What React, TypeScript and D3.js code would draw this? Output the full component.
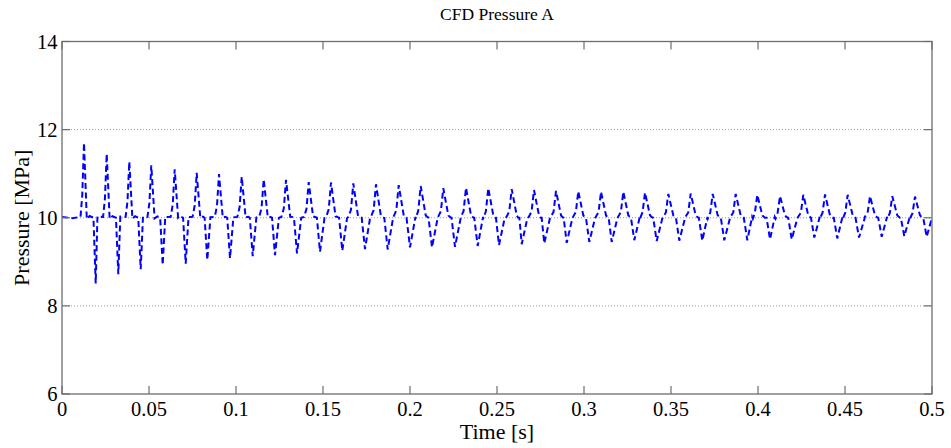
import React from "react";
import * as d3 from "d3";

// ---- data ----
const peakT = [0.01264, 0.02569, 0.03868, 0.05132, 0.06477, 0.07741, 0.09023, 0.10328, 0.11592, 0.12874, 0.14178, 0.1546, 0.16741, 0.18046, 0.19351, 0.20615, 0.21914, 0.23218, 0.245, 0.25845, 0.27126, 0.28391, 0.29672, 0.30977, 0.32259, 0.33506, 0.34845, 0.36132, 0.37397, 0.38718, 0.3996, 0.41264, 0.42603, 0.43851, 0.45155, 0.46437, 0.47718, 0.49023];
const peakP = [11.7, 11.45, 11.27, 11.19, 11.1, 11.02, 10.99, 10.93, 10.87, 10.86, 10.81, 10.8, 10.78, 10.76, 10.74, 10.72, 10.67, 10.68, 10.67, 10.65, 10.63, 10.61, 10.6, 10.59, 10.59, 10.57, 10.54, 10.55, 10.54, 10.54, 10.52, 10.49, 10.52, 10.53, 10.52, 10.49, 10.49, 10.48];
const troughT = [0.01937, 0.03236, 0.04523, 0.05787, 0.07109, 0.08351, 0.09655, 0.1096, 0.12241, 0.13506, 0.14828, 0.16109, 0.17414, 0.18718, 0.2, 0.21264, 0.22586, 0.23891, 0.25115, 0.2642, 0.27718, 0.29006, 0.30305, 0.31592, 0.32891, 0.34178, 0.35477, 0.36799, 0.38063, 0.39385, 0.4069, 0.41937, 0.43236, 0.44557, 0.45805, 0.47109, 0.48408, 0.49695];
const troughP = [8.51, 8.72, 8.83, 8.93, 8.96, 9.04, 9.08, 9.13, 9.15, 9.19, 9.23, 9.25, 9.29, 9.28, 9.33, 9.33, 9.34, 9.36, 9.38, 9.4, 9.42, 9.43, 9.45, 9.45, 9.49, 9.47, 9.48, 9.48, 9.49, 9.49, 9.51, 9.51, 9.55, 9.53, 9.55, 9.57, 9.58, 9.57];
const baseP = 10.0;
const startPts: [number, number][] = [[0, 10.02], [0.006, 9.99]];
const endPts: [number, number][] = [[0.5, 10.0]];

const xTicks = [0, 0.05, 0.1, 0.15, 0.2, 0.25, 0.3, 0.35, 0.4, 0.45, 0.5];
const yTicks = [6, 8, 10, 12, 14];
const gridY = [8, 10, 12];

const W = 951, H = 448;
const L = 62, R = 932, T = 41.5, B = 394;
const FONT = "'Liberation Serif', 'Times New Roman', serif";

function buildPoints(): [number, number][] {
  const lerp = (a: number, b: number, k: number) => a + (b - a) * k;
  const pts: [number, number][] = [...startPts];
  peakT.forEach((tp, i) => {
    const k = Math.min(1, i / 14);
    const P = peakP[i];
    pts.push([tp - lerp(0.0020, 0.0030, k), baseP + 0.02]);
    pts.push([tp - lerp(0.0010, 0.0014, k), baseP + (P - baseP) * lerp(0.3, 0.22, k)]);
    pts.push([tp, P]);
    pts.push([tp + lerp(0.0016, 0.0029, k), lerp(9.97, 10.05, k)]);
    pts.push([tp + lerp(0.0032, 0.0044, k), lerp(10.04, 10.0, k)]);
    const tt = troughT[i];
    pts.push([tt - lerp(0.0013, 0.0020, k), baseP]);
    pts.push([tt, troughP[i]]);
    pts.push([tt + lerp(0.0010, 0.0032, k), lerp(10.03, 9.98, k)]);
  });
  pts.push(...endPts);
  return pts.filter((p) => p[0] <= 0.5).sort((a, b) => a[0] - b[0]);
}

export default function App() {
  const x = d3.scaleLinear().domain([0, 0.5]).range([L, R]);
  const y = d3.scaleLinear().domain([6, 14]).range([B, T]);
  const pts = buildPoints();
  const line = d3.line<[number, number]>().x((d) => x(d[0])).y((d) => y(d[1])).curve(d3.curveLinear);
  const axisColor = "#6e6e6e";
  const tickLen = 8;
  return (
    <svg width={W} height={H} style={{ position: "absolute", left: 0, top: 0, background: "#fff" }} fontFamily={FONT}>
      <rect x={0} y={0} width={W} height={H} fill="#fff" />
      <defs>
        <clipPath id="plot">
          <rect x={L} y={T} width={R - L} height={B - T} />
        </clipPath>
      </defs>
      {gridY.map((v) => (
        <line key={v} x1={L} x2={R} y1={y(v)} y2={y(v)} stroke="#9a9a9a" strokeWidth={1} strokeDasharray="1,2" />
      ))}
      <path d={line(pts) || ""} fill="none" stroke="#0000ff" strokeWidth={2} strokeDasharray="6,3.5" clipPath="url(#plot)" />
      {/* frame */}
      <rect x={L} y={T} width={R - L} height={B - T} fill="none" stroke={axisColor} strokeWidth={1.3} />
      {xTicks.map((v) => (
        <g key={v}>
          <line x1={x(v)} x2={x(v)} y1={B} y2={B - tickLen} stroke={axisColor} strokeWidth={1.2} />
          <line x1={x(v)} x2={x(v)} y1={T} y2={T + tickLen} stroke={axisColor} strokeWidth={1.2} />
          <text x={x(v)} y={416} textAnchor="middle" fontSize={20.5} fill="#000">{String(v)}</text>
        </g>
      ))}
      {yTicks.map((v) => (
        <g key={v}>
          <line x1={L} x2={L + tickLen} y1={y(v)} y2={y(v)} stroke={axisColor} strokeWidth={1.2} />
          <line x1={R} x2={R - tickLen} y1={y(v)} y2={y(v)} stroke={axisColor} strokeWidth={1.2} />
          <text x={57.5} y={y(v) + 7} textAnchor="end" fontSize={20.5} fill="#000">{String(v)}</text>
        </g>
      ))}
      <text x={(L + R) / 2} y={20} textAnchor="middle" fontSize={17.5} fill="#000">CFD Pressure A</text>
      <text x={(L + R) / 2} y={439} textAnchor="middle" fontSize={22} fill="#000">Time [s]</text>
      <text transform={`translate(29,${(T + B) / 2}) rotate(-90)`} textAnchor="middle" fontSize={22} fill="#000">Pressure [MPa]</text>
    </svg>
  );
}
